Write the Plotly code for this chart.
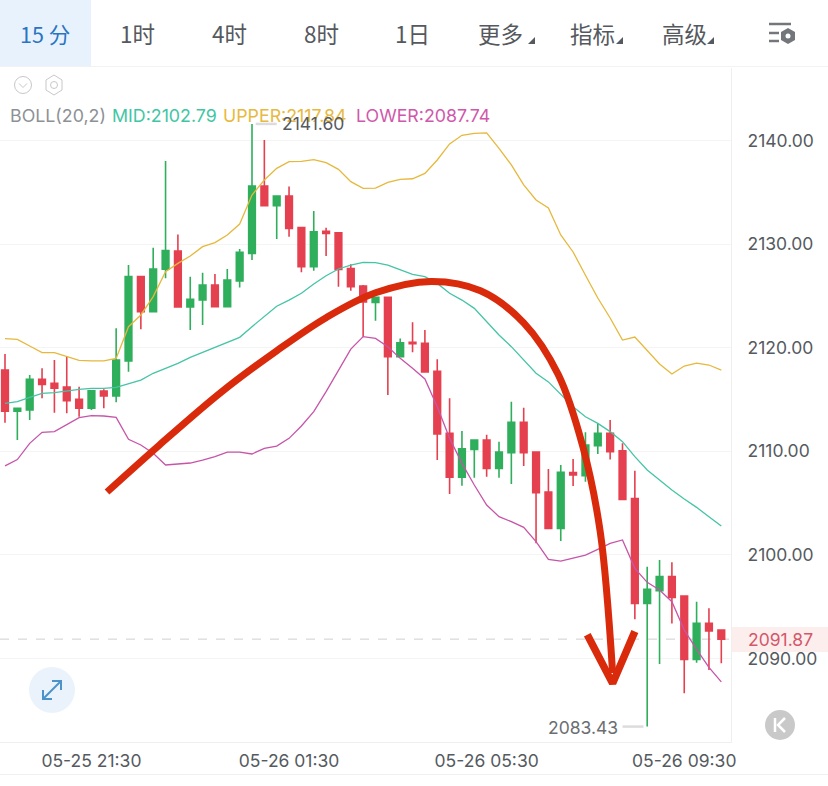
import pandas as pd
import plotly.graph_objects as go

W, H = 828, 786
start = pd.Timestamp("2024-05-25 19:45")
times = pd.date_range(start, periods=59, freq="15min")

opens = [2117.85,2113.86,2113.99,2116.95,2116.56,2116.21,2115.02,2114.15,2115.82,2115.34,2118.72,2126.86,2123.48,2127.57,2129.34,2123.93,2124.60,2126.05,2123.96,2126.44,2129.11,2135.61,2133.71,2134.64,2131.59,2127.82,2131.23,2131.10,2127.63,2125.96,2124.38,2124.86,2119.13,2120.52,2120.42,2117.72,2111.73,2107.49,2110.19,2111.09,2108.35,2109.87,2112.80,2109.93,2106.07,2102.56,2107.94,2107.65,2110.54,2111.73,2110.06,2105.43,2095.32,2096.55,2097.90,2096.03,2089.92,2093.39,2092.75]
highs = [2119.39,2114.15,2117.37,2118.01,2118.81,2119.14,2116.24,2115.92,2115.98,2121.87,2127.98,2126.86,2129.66,2138.02,2130.94,2126.86,2127.24,2127.12,2127.60,2129.53,2141.60,2140.05,2134.64,2135.55,2131.59,2133.19,2131.59,2131.10,2128.05,2126.05,2124.86,2124.93,2120.90,2122.45,2121.71,2118.88,2115.11,2111.96,2111.16,2111.61,2110.93,2114.79,2114.21,2109.93,2108.29,2108.68,2109.26,2111.83,2112.70,2113.02,2110.77,2108.13,2098.86,2099.51,2099.28,2096.03,2095.48,2094.84,2092.75]
lows = [2112.76,2111.09,2113.02,2115.11,2113.73,2113.67,2113.34,2113.99,2114.15,2114.73,2117.69,2121.77,2123.48,2126.70,2123.93,2121.71,2122.19,2123.96,2123.96,2125.80,2128.47,2133.71,2130.49,2130.72,2127.28,2127.43,2128.85,2125.89,2125.50,2121.07,2122.61,2115.43,2119.07,2119.55,2117.65,2109.16,2105.88,2106.68,2107.45,2107.55,2107.45,2106.84,2108.58,2101.12,2102.47,2101.34,2106.65,2107.07,2109.74,2109.22,2105.36,2093.78,2083.43,2089.47,2093.39,2086.64,2089.60,2088.89,2089.53]
closes = [2113.86,2114.15,2116.95,2116.46,2116.08,2114.89,2114.15,2115.85,2115.34,2118.81,2126.86,2123.48,2127.60,2129.37,2123.93,2124.67,2126.05,2123.96,2126.53,2129.21,2135.61,2133.71,2134.64,2131.52,2127.82,2131.20,2131.04,2127.56,2125.89,2124.41,2124.86,2119.13,2120.48,2120.39,2117.65,2111.67,2107.49,2110.25,2111.09,2108.35,2109.93,2112.80,2109.87,2106.00,2102.56,2107.97,2107.71,2110.61,2111.73,2109.96,2105.36,2095.32,2096.68,2097.90,2095.90,2089.92,2093.39,2092.66,2091.87]
upper = [2120.87,2120.81,2120.16,2119.52,2119.52,2119.14,2118.78,2118.72,2118.72,2118.97,2122.03,2123.16,2124.93,2127.34,2128.14,2128.85,2129.75,2130.14,2130.88,2131.94,2134.74,2136.19,2137.31,2137.96,2137.99,2138.15,2137.86,2137.22,2136.03,2135.38,2135.41,2135.96,2136.25,2136.31,2136.83,2138.12,2139.67,2140.50,2140.69,2140.73,2139.25,2137.64,2135.71,2134.26,2133.49,2130.88,2129.24,2127.00,2124.80,2122.87,2120.74,2121.03,2119.78,2118.43,2117.46,2118.23,2118.52,2118.33,2117.84]
mid = [2114.63,2114.79,2115.21,2115.60,2115.66,2115.85,2115.98,2116.08,2116.08,2116.17,2116.56,2116.88,2117.53,2118.01,2118.49,2119.07,2119.55,2120.10,2120.58,2121.00,2122.03,2123.00,2124.00,2124.60,2125.25,2126.15,2126.95,2127.60,2127.98,2128.24,2128.21,2127.98,2127.50,2127.08,2126.86,2126.21,2125.25,2124.60,2123.80,2122.51,2121.23,2120.10,2118.81,2117.53,2116.70,2115.50,2114.31,2113.34,2112.70,2111.90,2110.93,2109.48,2108.19,2107.23,2106.26,2105.40,2104.59,2103.69,2102.79]
lower = [2108.60,2109.20,2110.77,2111.83,2111.90,2112.60,2113.25,2113.44,2113.41,2113.28,2111.16,2110.61,2109.81,2108.68,2108.77,2108.87,2109.16,2109.48,2109.93,2109.93,2109.74,2110.29,2110.51,2111.25,2112.44,2113.83,2115.76,2117.78,2119.87,2121.07,2120.90,2120.10,2118.97,2118.01,2116.98,2114.31,2111.25,2108.84,2106.75,2104.82,2103.69,2103.21,2102.66,2101.28,2099.57,2099.41,2099.67,2099.99,2100.54,2101.12,2101.44,2098.70,2097.35,2096.61,2095.48,2092.75,2090.88,2089.15,2087.74]

arc_bar = [8.26,12.5,17.5,22.0,26.0,30.0,34.5,38.5,42.0,44.8,46.8,48.2,49.2]
arc_price = [2106.07,2110.6,2115.7,2119.7,2122.9,2125.3,2126.4,2125.5,2122.4,2117.4,2110.4,2102.2,2088.6]
head_bar = [47.15,49.2,51.0]
head_price = [2092.3,2087.6,2092.6]

price_ticks = [2090,2100,2110,2120,2130,2140]
time_labels = ["05-25 21:30","05-26 01:30","05-26 05:30","05-26 09:30"]
time_tick_bars = [7,23,39,55]
tabs = [("15 分",45),("1时",137),("4时",229),("8时",321),("1日",412),("更多",500),("指标",592),("高级",684)]

LAT = "Inter, 'Noto Sans CJK SC'"
CJK = "'Noto Sans CJK SC', Inter"
GREEN, RED = "#2fae5c", "#e5404f"
TXT = "#555a60"

def bar_time(b):
    return start + pd.Timedelta(minutes=15*b)
def X(x): return x/W
def Y(y): return 1-y/H
def rect(x0,y0,x1,y1,**k):
    return dict(type="rect",xref="paper",yref="paper",x0=X(x0),x1=X(x1),y0=Y(y0),y1=Y(y1),layer=k.pop("layer","below"),**k)
def circ(cx,cy,r,**k):
    return dict(type="circle",xref="paper",yref="paper",x0=X(cx-r),x1=X(cx+r),y0=Y(cy-r),y1=Y(cy+r),layer="above",**k)
def poly(pts,close=False,**k):
    p="M"+" L".join(f"{X(a):.5f},{Y(b):.5f}" for a,b in pts)+(" Z" if close else "")
    return dict(type="path",xref="paper",yref="paper",path=p,layer="above",**k)
def label(x,y,t,size=16,color=TXT,family=LAT,anchor="left"):
    return dict(xref="paper",yref="paper",x=X(x),y=Y(y),text=t,showarrow=False,xanchor=anchor,yanchor="middle",
                font=dict(size=size,color=color,family=family))

fig = go.Figure()
fig.add_trace(go.Candlestick(x=times,open=opens,high=highs,low=lows,close=closes,whiskerwidth=0,
    increasing=dict(line=dict(color=GREEN,width=1.6),fillcolor=GREEN),
    decreasing=dict(line=dict(color=RED,width=1.6),fillcolor=RED),showlegend=False,hoverinfo="skip"))
for vals,col in ((upper,"#e6b83c"),(mid,"#45c4a6"),(lower,"#c655a8")):
    fig.add_trace(go.Scatter(x=times,y=vals,mode="lines",line=dict(color=col,width=1.3),showlegend=False,hoverinfo="skip"))
fig.add_trace(go.Scatter(x=[bar_time(b) for b in arc_bar],y=arc_price,mode="lines",
    line=dict(color="#d92a0c",width=7,shape="spline",smoothing=1.0),showlegend=False,hoverinfo="skip"))
fig.add_trace(go.Scatter(x=[bar_time(b) for b in head_bar],y=head_price,mode="lines",
    line=dict(color="#d92a0c",width=7.5),showlegend=False,hoverinfo="skip"))

shapes = [
    rect(0,0,91,66,fillcolor="#e8f2fc",line_width=0),
    rect(0,66,W,67,fillcolor="#f2f2f2",line_width=0),
    rect(731,627,W,652,fillcolor="#fdeeee",line_width=0),
    rect(0,774,W,775,fillcolor="#f0f0f0",line_width=0),
    dict(type="line",xref="paper",yref="y",x0=0,x1=731/W,y0=closes[-1],y1=closes[-1],layer="below",
         line=dict(color="#cfcfcf",width=1,dash="dash")),
    dict(type="line",xref="x",yref="y",x0=bar_time(20.3),x1=bar_time(22),y0=highs[20],y1=highs[20],layer="below",
         line=dict(color="#dcdcdc",width=2.5)),
    dict(type="line",xref="x",yref="y",x0=bar_time(50),x1=bar_time(51.7),y0=lows[52],y1=lows[52],layer="below",
         line=dict(color="#dcdcdc",width=2.5)),
    circ(52,690,23,fillcolor="#eaf3fb",line_width=0),
    poly([(43,699),(61,681)],line=dict(color="#4b93c9",width=2)),
    poly([(43,690),(43,699),(52,699)],line=dict(color="#4b93c9",width=2)),
    poly([(52,681),(61,681),(61,690)],line=dict(color="#4b93c9",width=2)),
    circ(780,725,15,fillcolor="#c9c9c9",line_width=0),
    poly([(775,718),(775,732)],line=dict(color="#ffffff",width=2.5)),
    poly([(785,718),(778,725),(785,732)],line=dict(color="#ffffff",width=2.5)),
    circ(23,85,8.5,fillcolor="rgba(0,0,0,0)",line=dict(color="#c8c8c8",width=1)),
    poly([(19,83.5),(23,87.5),(27,83.5)],line=dict(color="#c8c8c8",width=1)),
    poly([(54,75),(62,80),(62,90),(54,95),(46,90),(46,80)],close=True,line=dict(color="#c8c8c8",width=1)),
    circ(54,85,3.5,fillcolor="rgba(0,0,0,0)",line=dict(color="#c8c8c8",width=1)),
    poly([(769,24),(791,24)],line=dict(color="#73777c",width=2.5)),
    poly([(769,33),(779,33)],line=dict(color="#73777c",width=2.5)),
    poly([(769,41),(779,41)],line=dict(color="#73777c",width=2.5)),
    poly([(788,28),(795,32),(795,40),(788,44),(781,40),(781,32)],close=True,fillcolor="#73777c",line_width=0),
    circ(788,36,2.5,fillcolor="#ffffff",line_width=0),
]
for tx in (537,625,716):
    shapes.append(poly([(tx-9,44),(tx-2,44),(tx-2,37)],close=True,fillcolor="#555a60",line_width=0))

notes = []
for t,c in tabs:
    notes.append(label(c,33,t,size=21.5 if t=="15 分" else 22.5,family=CJK,anchor="center",color="#2a75c2" if t=="15 分" else "#55595e"))
notes += [
    label(8,116,"BOLL(20,2)",color="#8d9196",size=17.8),
    label(110,116,"MID:2102.79",color="#3fc6a5",size=17.8),
    label(221,116,"UPPER:2117.84",color="#e8b93e",size=17.8),
    label(354,116,"LOWER:2087.74",color="#d058ab",size=17.8),
    label(280,124,"2141.60",color="#555a60",size=17.5),
    label(546,727,"2083.43",color="#6a6e72",size=17.5),
    label(780,639,f"{closes[-1]:.2f}",color="#d4576a",size=17.5,anchor="center"),
]

bar_px = 12.35
fig.update_layout(
    width=W,height=H,margin=dict(l=0,r=0,t=0,b=0,autoexpand=False),paper_bgcolor="#fff",plot_bgcolor="#fff",
    boxgap=0.46,boxgroupgap=0,shapes=shapes,annotations=notes,showlegend=False,
    xaxis=dict(domain=[0,731/W],type="date",rangeslider=dict(visible=False),
        range=[bar_time(-5/bar_px),bar_time((731-5)/bar_px)],
        tickmode="array",tickvals=[bar_time(b) for b in time_tick_bars],ticktext=time_labels,
        showgrid=False,ticks="outside",ticklen=3,tickcolor="rgba(0,0,0,0)",
        showline=True,linecolor="#efefef",linewidth=1,tickangle=0,
        tickfont=dict(size=17.5,color=TXT,family=LAT)),
    yaxis=dict(domain=[1-742/H,1-68/H],side="right",range=[2081.94,2147.0],
        tickmode="array",tickvals=price_ticks,tickformat=".2f",
        gridcolor="#f4f4f4",gridwidth=1,zeroline=False,ticks="outside",ticklen=12,tickcolor="rgba(0,0,0,0)",
        showline=True,linecolor="#efefef",linewidth=1,
        tickfont=dict(size=17.5,color=TXT,family=LAT)),
)
fig.write_html("out.html",config=dict(displayModeBar=False),post_script="document.body.style.margin='0';document.documentElement.style.overflow='hidden';")
